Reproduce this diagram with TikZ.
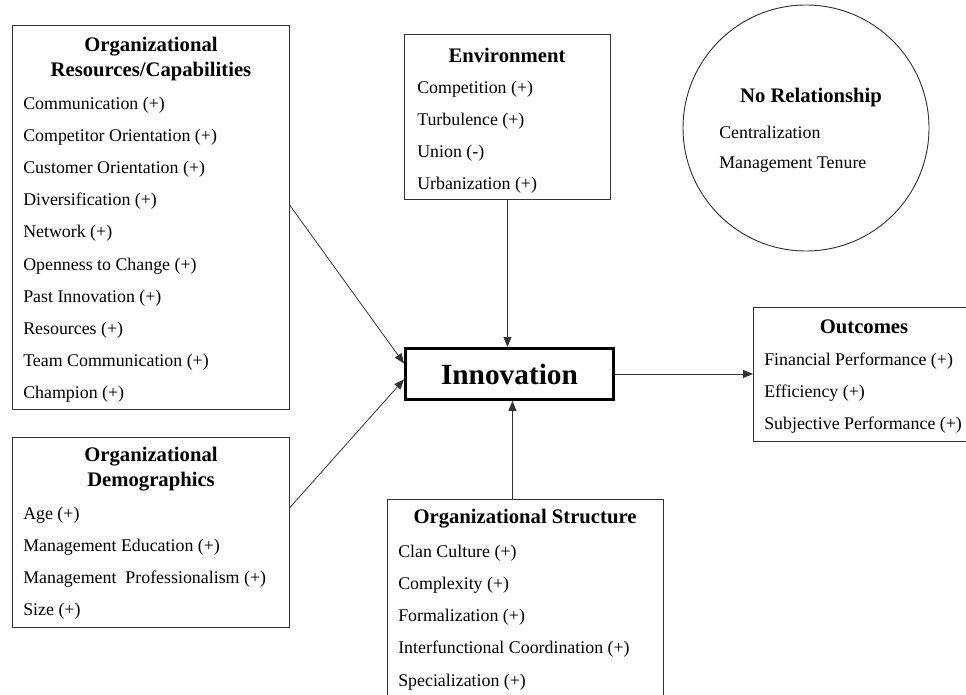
\documentclass[tikz,border=0pt]{standalone}
\usepackage{fontspec}
\setmainfont{Liberation Serif}
\usetikzlibrary{arrows.meta}

\begin{document}
\begin{tikzpicture}[x=0.75pt, y=-0.75pt]
	\tikzset{box/.style={rectangle, draw=black!80, line width=0.7pt, inner sep=0pt, anchor=north west},
		ttl/.style={font=\fontsize{15.5}{18}\selectfont\bfseries, inner sep=0pt},
		itm/.style={font=\fontsize{13.4}{16}\selectfont, anchor=west, inner sep=0pt},
		arr/.style={draw=black!80, line width=0.6pt, -{Triangle[length=7.5pt, width=6pt]}}};
	\useasboundingbox (0,0) rectangle (966,695);

	% boxes
	\node[box, minimum width=207.75pt, minimum height=288pt] (res) at (12,25) {};
	\node[box, minimum width=207.75pt, minimum height=142.5pt] (dem) at (12,437) {};
	\node[box, minimum width=154.5pt, minimum height=123.75pt] (env) at (404,34) {};
	\node[box, line width=2.2pt, draw=black, minimum width=156pt, minimum height=38.25pt] (inno) at (404,347) {};
	\node[box, minimum width=165pt, minimum height=100.5pt] (out) at (753,307) {};
	\node[box, minimum width=207pt, minimum height=172.5pt] (str) at (387,499) {};
	\node[circle, draw=black!80, line width=0.7pt, minimum size=184.5pt, inner sep=0pt] (norel) at (806,128) {};

	% resources / capabilities
	\node[ttl] (rest1) at (151,47) {Organizational};
	\node[ttl] (rest2) at (151,72) {Resources/Capabilities};
	\node[itm] (r1) at (23,105) {Communication (+)};
	\node[itm] (r2) at (23,137) {Competitor Orientation (+)};
	\node[itm] (r3) at (23,169) {Customer Orientation (+)};
	\node[itm] (r4) at (23,201) {Diversification (+)};
	\node[itm] (r5) at (23,233) {Network (+)};
	\node[itm] (r6) at (23,266) {Openness to Change (+)};
	\node[itm] (r7) at (23,298) {Past Innovation (+)};
	\node[itm] (r8) at (23,330) {Resources (+)};
	\node[itm] (r9) at (23,362) {Team Communication (+)};
	\node[itm] (r10) at (23,394) {Champion (+)};

	% demographics
	\node[ttl] (demt1) at (151,457) {Organizational};
	\node[ttl] (demt2) at (151,482) {Demographics};
	\node[itm] (d1) at (23,515) {Age (+)};
	\node[itm] (d2) at (23,547) {Management Education (+)};
	\node[itm] (d3) at (23,579) {Management\ \ Professionalism (+)};
	\node[itm] (d4) at (23,611) {Size (+)};

	% environment
	\node[ttl] (envt) at (507,55) {Environment};
	\node[itm] (e1) at (417,89) {Competition (+)};
	\node[itm] (e2) at (417,121) {Turbulence (+)};
	\node[itm] (e3) at (417,153) {Union (-)};
	\node[itm] (e4) at (417,185) {Urbanization (+)};

	% no relationship
	\node[ttl] (norelt) at (811,98) {No Relationship};
	\node[itm] (n1) at (719,132) {Centralization};
	\node[itm] (n2) at (719,165) {Management Tenure};

	% innovation
	\node[font=\fontsize{22}{26}\selectfont\bfseries, inner sep=0pt] (innot) at (inno.center) {Innovation};

	% outcomes
	\node[ttl] (outt) at (864,327) {Outcomes};
	\node[itm] (o1) at (764,361) {Financial Performance (+)};
	\node[itm] (o2) at (764,393) {Efficiency (+)};
	\node[itm] (o3) at (764,425) {Subjective Performance (+)};

	% structure
	\node[ttl] (strt) at (525,519) {Organizational Structure};
	\node[itm] (s1) at (398,553) {Clan Culture (+)};
	\node[itm] (s2) at (398,585) {Complexity (+)};
	\node[itm] (s3) at (398,617) {Formalization (+)};
	\node[itm] (s4) at (398,649) {Interfunctional Coordination (+)};
	\node[itm] (s5) at (398,682) {Specialization (+)};

	% arrows
	\coordinate (strin) at ([xshift=-9.75pt]str.north);
	\draw[arr] ([yshift=9pt]res.east) -- ([yshift=7.9pt]inno.west);
	\draw[arr] ([yshift=18.75pt]dem.east) -- ([yshift=-4.1pt]inno.west);
	\draw[arr] (env.south) -- (env.south |- inno.north);
	\draw[arr] (strin) -- (strin |- inno.south);
	\draw[arr] (inno.east) -- (inno.east -| out.west);

\end{tikzpicture}
\end{document}
